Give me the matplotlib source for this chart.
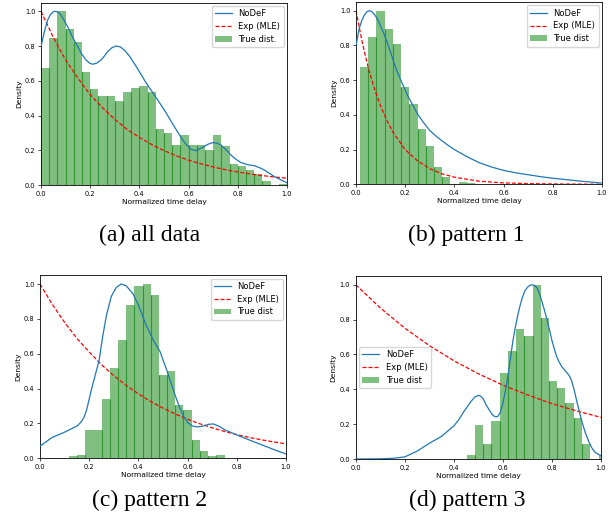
import numpy as np
import matplotlib
matplotlib.use("Agg")
import matplotlib.pyplot as plt

# ---------------- data ----------------
# (a) all data
a_edges = [0.0, 0.033, 0.067, 0.1, 0.133, 0.167, 0.2, 0.233, 0.267, 0.3, 0.333,
           0.367, 0.4, 0.433, 0.467, 0.5, 0.533, 0.567, 0.6, 0.633, 0.667, 0.7,
           0.733, 0.767, 0.8, 0.833, 0.867, 0.9, 0.933, 0.967, 1.0]
a_hist = [0.672, 0.845, 1.0, 0.897, 0.822, 0.651, 0.552, 0.511, 0.511, 0.483,
          0.534, 0.557, 0.569, 0.534, 0.322, 0.299, 0.230, 0.287, 0.230, 0.230,
          0.201, 0.287, 0.226, 0.121, 0.111, 0.086, 0.065, 0.023, 0.0, 0.008]
a_nodef_x = [0.0, 0.014, 0.027, 0.04, 0.054, 0.065, 0.075, 0.09, 0.108, 0.128, 0.149,
             0.166, 0.183, 0.197, 0.21, 0.227, 0.244, 0.258, 0.271, 0.288, 0.305,
             0.322, 0.339, 0.359, 0.379, 0.4, 0.42, 0.44, 0.461, 0.481, 0.501,
             0.522, 0.542, 0.56, 0.576, 0.594, 0.61, 0.63, 0.657, 0.678, 0.698,
             0.715, 0.732, 0.752, 0.772, 0.792, 0.813, 0.84, 0.867, 0.888, 0.908,
             0.928, 0.949, 0.975, 1.0]
a_nodef_y = [0.797, 0.885, 0.95, 0.985, 1.0, 0.998, 0.99, 0.958, 0.912, 0.853, 0.797,
             0.753, 0.72, 0.702, 0.695, 0.702, 0.72, 0.743, 0.768, 0.79, 0.80,
             0.795, 0.777, 0.743, 0.70, 0.652, 0.605, 0.561, 0.518, 0.475, 0.432,
             0.383, 0.336, 0.295, 0.259, 0.228, 0.205, 0.198, 0.217, 0.234, 0.244,
             0.241, 0.23, 0.203, 0.173, 0.148, 0.129, 0.117, 0.111, 0.1, 0.086,
             0.068, 0.048, 0.03, 0.013]
a_exp_x = [0.0, 0.05, 0.1, 0.15, 0.2, 0.25, 0.3, 0.35, 0.4, 0.45, 0.5, 0.55,
           0.6, 0.65, 0.7, 0.75, 0.8, 0.85, 0.9, 0.95, 1.0]
a_exp_y = [1.0, 0.85, 0.72, 0.615, 0.52, 0.445, 0.378, 0.32, 0.274, 0.233, 0.198,
           0.168, 0.143, 0.122, 0.104, 0.088, 0.075, 0.064, 0.054, 0.046, 0.039]

# (b) pattern 1
b_edges = [0.017, 0.05, 0.083, 0.117, 0.15, 0.183, 0.217, 0.25, 0.283, 0.317,
           0.35, 0.383, 0.417, 0.45, 0.483]
b_hist = [0.676, 0.848, 1.0, 0.894, 0.81, 0.56, 0.463, 0.319, 0.223, 0.10,
          0.042, 0.0, 0.013, 0.006]
b_nodef_x = [0.0, 0.0135, 0.024, 0.034, 0.044, 0.054, 0.064, 0.074, 0.088, 0.101,
             0.115, 0.128, 0.142, 0.155, 0.168, 0.182, 0.196, 0.209, 0.23, 0.25,
             0.275, 0.3, 0.325, 0.35, 0.375, 0.4, 0.45, 0.5, 0.55, 0.6, 0.65,
             0.7, 0.75, 0.8, 0.9, 1.0]
b_nodef_y = [0.80, 0.90, 0.945, 0.975, 0.993, 1.0, 0.995, 0.98, 0.95, 0.908,
             0.862, 0.812, 0.755, 0.697, 0.647, 0.60, 0.556, 0.514, 0.458, 0.405,
             0.355, 0.31, 0.278, 0.25, 0.224, 0.20, 0.16, 0.125, 0.10, 0.08, 0.066,
             0.055, 0.044, 0.035, 0.02, 0.007]
b_exp_x = [0.0, 0.025, 0.05, 0.075, 0.1, 0.125, 0.15, 0.175, 0.2, 0.25, 0.3,
           0.35, 0.4, 0.5, 0.6, 0.7, 0.8, 0.9, 1.0]
b_exp_y = [1.0, 0.82, 0.67, 0.55, 0.45, 0.37, 0.30, 0.25, 0.20, 0.135, 0.09,
           0.06, 0.041, 0.018, 0.008, 0.004, 0.002, 0.001, 0.0]

# (c) pattern 2
c_edges = [0.117, 0.15, 0.183, 0.25, 0.283, 0.317, 0.35, 0.383, 0.417, 0.45,
           0.483, 0.517, 0.55, 0.583, 0.617, 0.65, 0.683, 0.717, 0.75]
c_hist = [0.013, 0.019, 0.163, 0.34, 0.518, 0.679, 0.881, 0.99, 1.0, 0.937,
          0.478, 0.50, 0.306, 0.277, 0.105, 0.042, 0.013, 0.019]
c_nodef_x = [0.0, 0.05, 0.1, 0.15, 0.165, 0.175, 0.183, 0.19, 0.2, 0.21, 0.225,
             0.24, 0.255, 0.27, 0.29, 0.31, 0.33, 0.35, 0.377, 0.40, 0.431, 0.46,
             0.488, 0.515, 0.549, 0.568, 0.585, 0.6, 0.62, 0.64, 0.664, 0.685,
             0.705, 0.73, 0.752, 0.80, 0.867, 0.92, 0.96, 1.0]
c_nodef_y = [0.07, 0.12, 0.15, 0.185, 0.205, 0.225, 0.25, 0.28, 0.34, 0.40, 0.48,
             0.56, 0.70, 0.82, 0.93, 0.98, 1.0, 0.99, 0.946, 0.88, 0.765, 0.68,
             0.612, 0.507, 0.363, 0.29, 0.239, 0.205, 0.185, 0.18, 0.185, 0.195,
             0.197, 0.182, 0.163, 0.134, 0.096, 0.067, 0.045, 0.025]
c_exp_x = [0.0, 0.05, 0.1, 0.15, 0.2, 0.25, 0.3, 0.35, 0.4, 0.45, 0.5, 0.55,
           0.6, 0.65, 0.7, 0.75, 0.8, 0.85, 0.9, 0.95, 1.0]
c_exp_y = [1.0, 0.883, 0.78, 0.688, 0.61, 0.537, 0.474, 0.419, 0.37, 0.326,
           0.288, 0.254, 0.224, 0.198, 0.175, 0.154, 0.136, 0.12, 0.106, 0.094, 0.083]

# (d) pattern 3
d_edges = [0.452, 0.486, 0.52, 0.553, 0.587, 0.62, 0.654, 0.687, 0.721, 0.754,
           0.788, 0.822, 0.855, 0.889, 0.922, 0.956, 0.99, 1.023]
d_hist = [0.023, 0.195, 0.086, 0.218, 0.491, 0.62, 0.746, 0.706, 1.0, 0.809,
          0.447, 0.407, 0.319, 0.235, 0.086, 0.0, 0.021]
d_nodef_x = [0.0, 0.1, 0.15, 0.2, 0.25, 0.3, 0.35, 0.4, 0.42, 0.44, 0.455, 0.47,
             0.485, 0.5, 0.51, 0.52, 0.532, 0.545, 0.555, 0.565, 0.572, 0.58,
             0.59, 0.6, 0.61, 0.62, 0.63, 0.64, 0.65, 0.66, 0.67, 0.68, 0.69,
             0.70, 0.71, 0.72, 0.73, 0.74, 0.75, 0.76, 0.77, 0.78, 0.79, 0.80,
             0.81, 0.82, 0.83, 0.84, 0.855, 0.87, 0.88, 0.89, 0.905, 0.92, 0.935,
             0.95, 0.962, 0.975, 0.99, 1.0]
d_nodef_y = [0.0, 0.001, 0.004, 0.012, 0.045, 0.09, 0.13, 0.19, 0.225, 0.27, 0.30,
             0.33, 0.355, 0.365, 0.36, 0.345, 0.31, 0.28, 0.258, 0.245, 0.242,
             0.245, 0.27, 0.32, 0.39, 0.47, 0.57, 0.67, 0.75, 0.82, 0.88, 0.93,
             0.965, 0.985, 0.996, 1.0, 0.995, 0.98, 0.945, 0.9, 0.85, 0.8, 0.74,
             0.68, 0.63, 0.585, 0.555, 0.53, 0.505, 0.48, 0.45, 0.40, 0.31, 0.225,
             0.155, 0.10, 0.065, 0.04, 0.026, 0.02]
d_exp_x = [0.0, 0.1, 0.2, 0.3, 0.4, 0.5, 0.6, 0.7, 0.8, 0.9, 1.0]
d_exp_y = [1.0, 0.867, 0.751, 0.651, 0.564, 0.489, 0.424, 0.368, 0.318, 0.276, 0.239]

panels = [
    dict(edges=a_edges, hist=a_hist, nx=a_nodef_x, ny=a_nodef_y, ex=a_exp_x, ey=a_exp_y,
         true_label="True dist.", caption="(a) all data", loc="upper right"),
    dict(edges=b_edges, hist=b_hist, nx=b_nodef_x, ny=b_nodef_y, ex=b_exp_x, ey=b_exp_y,
         true_label="True dist", caption="(b) pattern 1", loc="upper right"),
    dict(edges=c_edges, hist=c_hist, nx=c_nodef_x, ny=c_nodef_y, ex=c_exp_x, ey=c_exp_y,
         true_label="True dist", caption="(c) pattern 2", loc="upper right"),
    dict(edges=d_edges, hist=d_hist, nx=d_nodef_x, ny=d_nodef_y, ex=d_exp_x, ey=d_exp_y,
         true_label="True dist", caption="(d) pattern 3", loc="center left"),
]

# ---------------- layout (pixels) ----------------
W, H = 616, 525
boxes = [(41, 2.6, 246, 182.4), (356, 2.0, 246, 182.3),
         (40, 275.3, 246, 183.0), (355.7, 276.0, 245.3, 183.0)]
cap_pos = [(150, 235), (466, 235), (150, 500), (467, 500)]

fig = plt.figure(figsize=(W / 100, H / 100), dpi=100)

for p, (l, t, w, h), (cx, cy) in zip(panels, boxes, cap_pos):
    ax = fig.add_axes([l / W, 1 - (t + h) / H, w / W, h / H])
    edges = np.array(p["edges"])
    hist = np.array(p["hist"])
    ax.bar(edges[:-1], hist, width=np.diff(edges), align="edge", color="g",
           alpha=0.5, linewidth=0, label=p["true_label"], zorder=1)
    # darker seams between adjacent bars
    inner = edges[1:-1]
    seam_h = np.minimum(hist[:-1], hist[1:])
    ax.vlines(inner, 0, seam_h, colors=(0.2, 0.58, 0.2), linewidth=0.8, zorder=1.5)
    ax.plot(p["nx"], p["ny"], color="#1f77b4", lw=0.9, label="NoDeF", zorder=3)
    ax.plot(p["ex"], p["ey"], color="red", ls=(0, (3.2, 1.6)), lw=0.9,
            label="Exp (MLE)", zorder=2)
    ax.set_xlim(0, 1)
    ax.set_ylim(0, 1.05)
    ax.set_xticks([0.0, 0.2, 0.4, 0.6, 0.8, 1.0])
    ax.set_yticks([0.0, 0.2, 0.4, 0.6, 0.8, 1.0])
    ax.tick_params(labelsize=4.8, length=2.2, width=0.5, pad=1.8)
    for s in ax.spines.values():
        s.set_linewidth(0.6)
    ax.set_xlabel("Normalized time delay", fontsize=5.4, labelpad=1.5)
    ax.set_ylabel("Density", fontsize=5.4, labelpad=2)
    handles, labels = ax.get_legend_handles_labels()
    order = [labels.index("NoDeF"), labels.index("Exp (MLE)"), labels.index(p["true_label"])]
    ax.legend([handles[i] for i in order], [labels[i] for i in order],
              loc=p["loc"], fontsize=6, handlelength=2.0, borderpad=0.4,
              labelspacing=0.45, borderaxespad=0.4)
    fig.text(cx / W, 1 - cy / H, p["caption"], ha="center", va="center",
             fontsize=17, family="Liberation Serif")

fig.savefig("out.png", dpi=100)
